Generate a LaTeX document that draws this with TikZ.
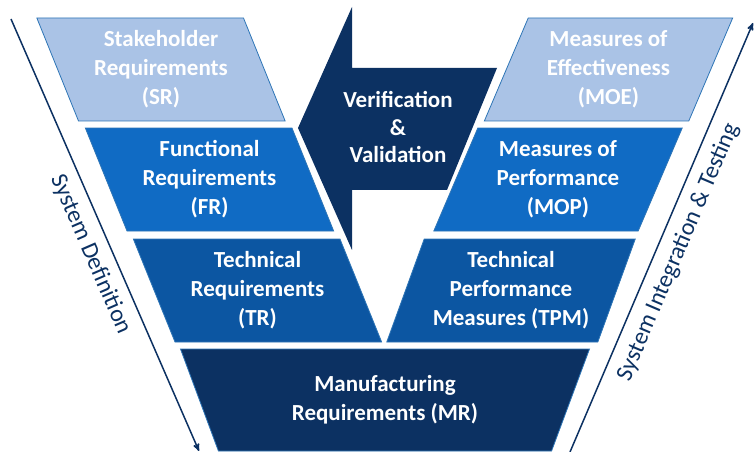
\documentclass[tikz,border=0pt]{standalone}
\usepackage{fontspec}
\setmainfont{Carlito}
\usepackage{tikz}
\usetikzlibrary{positioning,shapes,arrows,calc}

\definecolor{paleblue}{RGB}{170,195,230}
\definecolor{midblue}{RGB}{16,107,196}
\definecolor{deepblue}{RGB}{12,86,162}
\definecolor{navyblue}{RGB}{12,49,98}
\definecolor{edgeblue}{RGB}{46,117,182}

\begin{document}
\begin{tikzpicture}[
  x=1pt, y=1pt,
	node distance=7pt,
	every node/.style={
		text centered
	},
	level/.style={
		trapezium,
		trapezium stretches=true,
		minimum width=249pt,
		minimum height=103pt,
		inner sep=0pt,
		outer sep=0pt,
		draw=edgeblue,
		line width=0.8pt,
		text=white,
		align=center,
		font=\fontsize{23}{29}\selectfont\bfseries
	},
	leftlevel/.style={
		level,
		trapezium left angle=113.5,
		trapezium right angle=66.5
	},
	rightlevel/.style={
		level,
		trapezium left angle=66.5,
		trapezium right angle=113.5
	},
	baselevel/.style={
		level,
		fill=navyblue,
		minimum width=410pt,
		minimum height=102pt,
		trapezium left angle=113.5,
		trapezium right angle=113.5
	},
	vvtext/.style={
		text=white,
		align=center,
		font=\fontsize{23}{27.5}\selectfont\bfseries
	},
	sideline/.style={
		draw=navyblue,
		line width=1.5pt,
		arrows=-stealth'
	},
	sidelabel/.style={
		sloped,
		below,
		inner sep=10pt,
		text=navyblue,
		font=\fontsize{24}{28}\selectfont
	}
]
  \useasboundingbox (0,0) rectangle (755,452);

  % V & V arrow
  \fill[navyblue] (352,445) -- (352,384) -- (497,384) -- (447,262) -- (352,262) -- (352,202) -- (298,324) -- cycle;
  \node (VV) [vvtext] at (398,324.5) {Verification\\\&\\Validation};

  % left leg
  \node (SR) [leftlevel, fill=paleblue] at (161,382.5) {Stakeholder\\Requirements\\(SR)};
  \node (FR) [leftlevel, fill=midblue, below=of SR, xshift=48.5pt] {Functional\\Requirements\\(FR)};
  \node (TR) [leftlevel, fill=deepblue, below=8pt of FR, xshift=48pt] {Technical\\Requirements\\(TR)};
  \node (MR) [baselevel, below=of TR, xshift=127.5pt] {Manufacturing\\Requirements (MR)};

  % right leg
  \node (MOE) [rightlevel, fill=paleblue] at (608.5,382.5) {Measures of\\Effectiveness\\(MOE)};
  \node (MOP) [rightlevel, fill=midblue, below=of MOE, xshift=-50.5pt] {Measures of\\Performance\\(MOP)};
  \node (TPM) [rightlevel, fill=deepblue, below=8pt of MOP, xshift=-47pt] {Technical\\Performance\\Measures (TPM)};

  % side arrows
  \coordinate (DefStart) at (11,433);
  \coordinate (DefEnd) at (199,1);
  \coordinate (IntStart) at (570,0);
  \coordinate (IntEnd) at (753,429);
  \draw[sideline] (DefStart) -- node[sidelabel, pos=0.526] {System Definition} (DefEnd);
  \draw[sideline] (IntStart) -- node[sidelabel, pos=0.485] {System Integration \& Testing} (IntEnd);
\end{tikzpicture}
\end{document}
